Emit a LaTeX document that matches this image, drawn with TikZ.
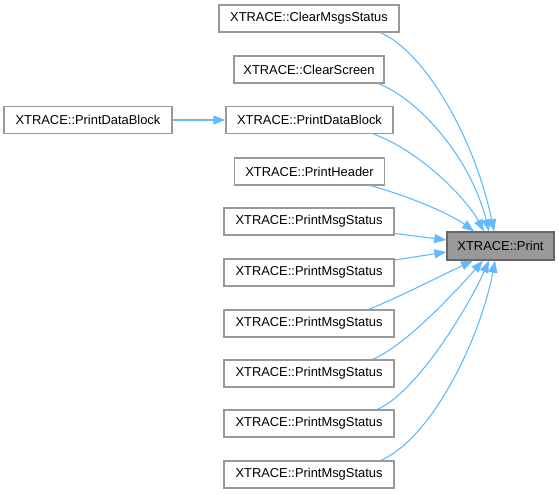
\documentclass[tikz,border=0pt]{standalone}
\usepackage{fontspec}
\setmainfont{Liberation Sans}
\usetikzlibrary{arrows.meta}
\definecolor{boxgray}{HTML}{999999}
\definecolor{darkgray}{HTML}{666666}
\definecolor{edgeblue}{HTML}{63B8FF}
\begin{document}
\begin{tikzpicture}[x=1pt,y=-1pt,
  fn/.style={draw=boxgray,fill=white,line width=1.3pt,minimum height=27pt,inner sep=0pt,
    font=\fontsize{12.9}{15}\selectfont},
  hl/.style={fn,fill=boxgray,draw=darkgray,minimum height=28pt},
  edge/.style={draw=edgeblue,line width=1.1pt,-{Triangle[length=12pt,width=9pt]}}]
\useasboundingbox (0,0) rectangle (559,493);
% nodes
\node[fn,minimum width=168pt] (lpdb) at (88,120) {XTRACE::PrintDataBlock};
\node[fn,minimum width=180pt] (cms) at (309,18.5) {XTRACE::ClearMsgsStatus};
\node[fn,minimum width=150pt] (cs) at (309,69.5) {XTRACE::ClearScreen};
\node[fn,minimum width=167pt] (pdb) at (309.5,120) {XTRACE::PrintDataBlock};
\node[fn,minimum width=150pt] (ph) at (309.5,171.5) {XTRACE::PrintHeader};
\node[fn,minimum width=170pt] (pms1) at (309,221.5) {XTRACE::PrintMsgStatus};
\node[fn,minimum width=170pt] (pms2) at (309,272.5) {XTRACE::PrintMsgStatus};
\node[fn,minimum width=170pt] (pms3) at (309,323.5) {XTRACE::PrintMsgStatus};
\node[fn,minimum width=170pt] (pms4) at (309,373.5) {XTRACE::PrintMsgStatus};
\node[fn,minimum width=170pt] (pms5) at (309,423.5) {XTRACE::PrintMsgStatus};
\node[fn,minimum width=170pt] (pms6) at (309,474.5) {XTRACE::PrintMsgStatus};
\node[hl,minimum width=107pt] (print) at (500.5,246) {XTRACE::Print};
% edges
\draw[edge] (lpdb.east) -- (pdb.west);
\draw[edge] ([xshift=-19pt]cms.south east) .. controls +(45,20) and +(-19,-92) .. ([xshift=-6.5pt]print.north);
\draw[edge] ([xshift=-6pt]cs.south east) .. controls +(42,17) and +(-18,-72) .. ([xshift=-11.5pt]print.north);
\draw[edge] ([xshift=-20pt]pdb.south east) .. controls +(47,17) and +(-17,-32) .. ([xshift=-16.5pt]print.north);
\draw[edge] ([xshift=-14.5pt]ph.south east) .. controls +(40,11) and +(-23,-17) .. ([xshift=-26.5pt]print.north);
\draw[edge] ([yshift=-12pt]pms1.east) -- ([yshift=6pt]print.west);
\draw[edge] ([yshift=12.5pt]pms2.east) -- ([yshift=-6pt]print.west);
\draw[edge] ([xshift=-26pt]pms3.north east) .. controls +(30,-12) and +(-30,14) .. ([xshift=-27.5pt]print.south);
\draw[edge] ([xshift=-22pt]pms4.north east) .. controls +(35,-15) and +(-25,28) .. ([xshift=-17.5pt]print.south);
\draw[edge] ([xshift=-17pt]pms5.north east) .. controls +(40,-18) and +(-20,45) .. ([xshift=-11.5pt]print.south);
\draw[edge] ([xshift=-14pt]pms6.north east) .. controls +(50,-21) and +(-15,80) .. ([xshift=-5.5pt]print.south);
\end{tikzpicture}
\end{document}
